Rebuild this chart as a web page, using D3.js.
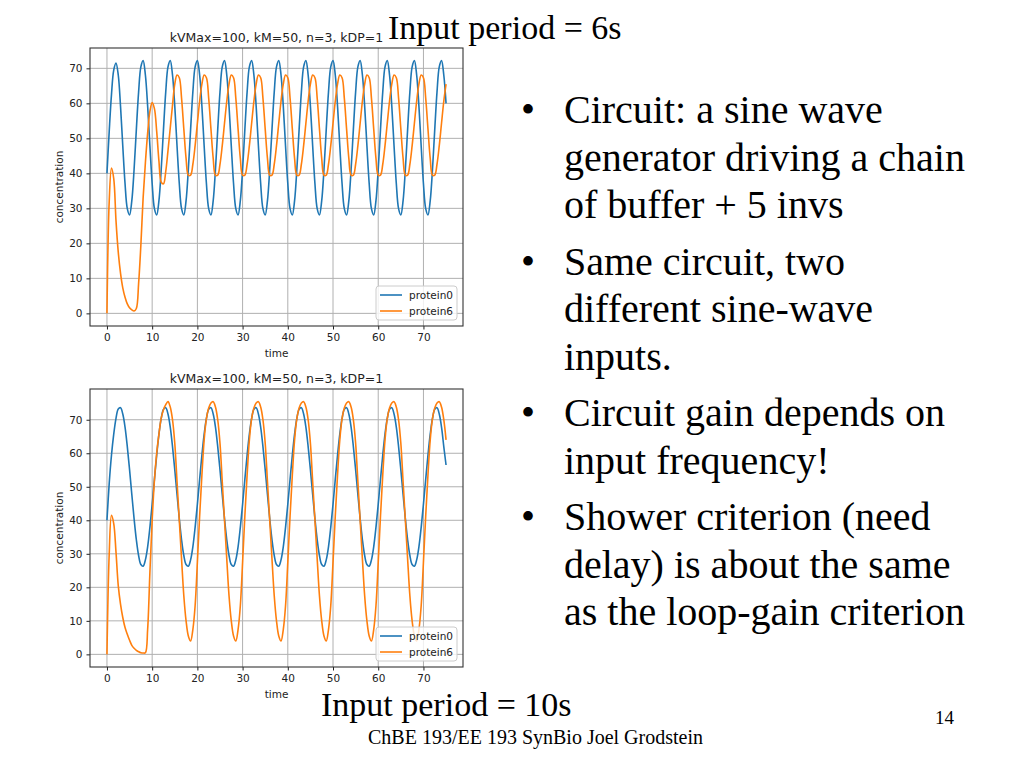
<!DOCTYPE html>
<html><head><meta charset="utf-8">
<script src="https://cdn.jsdelivr.net/npm/d3@7"></script>
<style>body{margin:0;background:#fff;} svg{display:block;}</style>
</head><body><svg id="c" width="1024" height="768"></svg>
<script>
// ---------- data ----------
const timeStep = 0.5;
const tMax = 75;
const xTickValues = [0, 10, 20, 30, 40, 50, 60, 70];
const yTickValues = [0, 10, 20, 30, 40, 50, 60, 70];
const seriesNames = ["protein0", "protein6"];
const chartTitle = "kVMax=100, kM=50, n=3, kDP=1";

// top chart (input period = 6s), sampled every 0.5 time units, t = 0..75
const topP0 = [
  40, 52, 62.5, 69.5,
  71.5, 68.1, 59.2, 47.8, 37.1, 29.9, 28.1, 32.2, 41.1, 52.5, 63.2, 70.4,
  72.2, 68.1, 59.2, 47.8, 37.1, 29.9, 28.1, 32.2, 41.1, 52.5, 63.2, 70.4,
  72.2, 68.1, 59.2, 47.8, 37.1, 29.9, 28.1, 32.2, 41.1, 52.5, 63.2, 70.4,
  72.2, 68.1, 59.2, 47.8, 37.1, 29.9, 28.1, 32.2, 41.1, 52.5, 63.2, 70.4,
  72.2, 68.1, 59.2, 47.8, 37.1, 29.9, 28.1, 32.2, 41.1, 52.5, 63.2, 70.4,
  72.2, 68.1, 59.2, 47.8, 37.1, 29.9, 28.1, 32.2, 41.1, 52.5, 63.2, 70.4,
  72.2, 68.1, 59.2, 47.8, 37.1, 29.9, 28.1, 32.2, 41.1, 52.5, 63.2, 70.4,
  72.2, 68.1, 59.2, 47.8, 37.1, 29.9, 28.1, 32.2, 41.1, 52.5, 63.2, 70.4,
  72.2, 68.1, 59.2, 47.8, 37.1, 29.9, 28.1, 32.2, 41.1, 52.5, 63.2, 70.4,
  72.2, 68.1, 59.2, 47.8, 37.1, 29.9, 28.1, 32.2, 41.1, 52.5, 63.2, 70.4,
  72.2, 68.1, 59.2, 47.8, 37.1, 29.9, 28.1, 32.2, 41.1, 52.5, 63.2, 70.4,
  72.2, 68.1, 59.2, 47.8, 37.1, 29.9, 28.1, 32.2, 41.1, 52.5, 63.2, 70.4,
  72.2, 68.1, 60.0
];
const topP6 = [
  0, 32, 41.5, 38.5, 26.5, 17.5, 11.5, 7.3, 4.6, 2.7, 1.6, 1.0, 0.7, 1.4,
  8.5, 19.5, 33, 43, 51.5, 57.7, 60.2, 58.5, 52, 43.5, 37.5, 37.0, 40.5,
  46.5, 53, 59.5, 65.5,
  68.1, 67.3, 61.5, 52.7, 44.3, 39.5, 39.5, 42.6, 47.9, 54.3, 60.6, 65.5,
  68.1, 67.3, 61.5, 52.7, 44.3, 39.5, 39.5, 42.6, 47.9, 54.3, 60.6, 65.5,
  68.1, 67.3, 61.5, 52.7, 44.3, 39.5, 39.5, 42.6, 47.9, 54.3, 60.6, 65.5,
  68.1, 67.3, 61.5, 52.7, 44.3, 39.5, 39.5, 42.6, 47.9, 54.3, 60.6, 65.5,
  68.1, 67.3, 61.5, 52.7, 44.3, 39.5, 39.5, 42.6, 47.9, 54.3, 60.6, 65.5,
  68.1, 67.3, 61.5, 52.7, 44.3, 39.5, 39.5, 42.6, 47.9, 54.3, 60.6, 65.5,
  68.1, 67.3, 61.5, 52.7, 44.3, 39.5, 39.5, 42.6, 47.9, 54.3, 60.6, 65.5,
  68.1, 67.3, 61.5, 52.7, 44.3, 39.5, 39.5, 42.6, 47.9, 54.3, 60.6, 65.5,
  68.1, 67.3, 61.5, 52.7, 44.3, 39.5, 39.5, 42.6, 47.9, 54.3, 60.6, 65.5,
  68.1, 67.3, 61.5, 52.7, 44.3, 39.5, 39.5, 42.6, 47.9, 54.3, 60.6, 65.5
];

// bottom chart (input period = 10s), sampled every 0.5 time units, t = 0..75
const botP0 = [
  40, 51, 59.4, 65.7, 70.4, 73.2,
  73.6, 71.7, 67.8, 62.0, 55.1, 47.7, 40.5, 34.2, 29.5, 26.8, 26.3, 28.2, 32.1, 37.9, 44.8, 52.2, 59.4, 65.7, 70.4, 73.1,
  73.6, 71.7, 67.8, 62.0, 55.1, 47.7, 40.5, 34.2, 29.5, 26.8, 26.3, 28.2, 32.1, 37.9, 44.8, 52.2, 59.4, 65.7, 70.4, 73.1,
  73.6, 71.7, 67.8, 62.0, 55.1, 47.7, 40.5, 34.2, 29.5, 26.8, 26.3, 28.2, 32.1, 37.9, 44.8, 52.2, 59.4, 65.7, 70.4, 73.1,
  73.6, 71.7, 67.8, 62.0, 55.1, 47.7, 40.5, 34.2, 29.5, 26.8, 26.3, 28.2, 32.1, 37.9, 44.8, 52.2, 59.4, 65.7, 70.4, 73.1,
  73.6, 71.7, 67.8, 62.0, 55.1, 47.7, 40.5, 34.2, 29.5, 26.8, 26.3, 28.2, 32.1, 37.9, 44.8, 52.2, 59.4, 65.7, 70.4, 73.1,
  73.6, 71.7, 67.8, 62.0, 55.1, 47.7, 40.5, 34.2, 29.5, 26.8, 26.3, 28.2, 32.1, 37.9, 44.8, 52.2, 59.4, 65.7, 70.4, 73.1,
  73.6, 71.7, 67.8, 62.0, 55.1, 47.7, 40.5, 34.2, 29.5, 26.8, 26.3, 28.2, 32.1, 37.9, 44.8, 52.2, 59.4, 65.7, 70.4, 73.1,
  73.6, 71.7, 67.8, 62.0, 56.5
];
const botP6 = [
  0, 30, 41.5, 39, 30.5, 20.5, 15, 11, 8, 6, 4.2, 2.7, 1.8, 1.2, 0.8, 0.5, 0.4, 0.5,
  7.5, 24.5, 40, 52, 60, 65.8, 70.5, 73, 74.5,
  75.4, 73.8, 70.0, 63.0, 51.5, 40.0, 28.5, 17.5, 10.0, 5.5, 4.0, 7.4, 14.5, 27.5, 41.3, 53.5, 64.0, 70.3, 73.5, 75.0,
  75.4, 73.8, 70.0, 63.0, 51.5, 40.0, 28.5, 17.5, 10.0, 5.5, 4.0, 7.4, 14.5, 27.5, 41.3, 53.5, 64.0, 70.3, 73.5, 75.0,
  75.4, 73.8, 70.0, 63.0, 51.5, 40.0, 28.5, 17.5, 10.0, 5.5, 4.0, 7.4, 14.5, 27.5, 41.3, 53.5, 64.0, 70.3, 73.5, 75.0,
  75.4, 73.8, 70.0, 63.0, 51.5, 40.0, 28.5, 17.5, 10.0, 5.5, 4.0, 7.4, 14.5, 27.5, 41.3, 53.5, 64.0, 70.3, 73.5, 75.0,
  75.4, 73.8, 70.0, 63.0, 51.5, 40.0, 28.5, 17.5, 10.0, 5.5, 4.0, 7.4, 14.5, 27.5, 41.3, 53.5, 64.0, 70.3, 73.5, 75.0,
  75.4, 73.8, 70.0, 63.0, 51.5, 40.0, 28.5, 17.5, 10.0, 5.5, 4.0, 7.4, 14.5, 27.5, 41.3, 53.5, 64.0, 70.3, 73.5, 75.0,
  75.4, 73.8, 70.0, 64.0
];

const bulletLines = [
  ["Circuit: a sine wave", "generator driving a chain", "of buffer + 5 invs"],
  ["Same circuit, two", "different sine-wave", "inputs."],
  ["Circuit gain depends on", "input frequency!"],
  ["Shower criterion (need", "delay) is about the same", "as the loop-gain criterion"]
];
const topCaption = "Input period = 6s";
const bottomCaption = "Input period = 10s";
const footerText = "ChBE 193/EE 193 SynBio Joel Grodstein";
const pageNumber = "14";

// ---------- drawing ----------
const times = d3.range(0, tMax + 1e-9, timeStep);
const colors = ["#1f77b4", "#ff7f0e"];
const svg = d3.select("#c");
const chartFont = "DejaVu Sans, sans-serif";
const slideFont = "Liberation Serif, Times New Roman, serif";

function drawChart(box, s0, s1) {
  const g = svg.append("g");
  const pad = 0.05;
  const xSpan = tMax - 0;
  const x = d3.scaleLinear().domain([-pad * xSpan, tMax + pad * xSpan]).range([box.left, box.right]);
  const yMin = Math.min(d3.min(s0), d3.min(s1)), yMax = Math.max(d3.max(s0), d3.max(s1));
  const ySpan = yMax - yMin;
  const y = d3.scaleLinear().domain([yMin - pad * ySpan, yMax + pad * ySpan]).range([box.bottom, box.top]);

  // grid
  g.append("g").selectAll("line").data(xTickValues).join("line")
    .attr("x1", d => x(d)).attr("x2", d => x(d)).attr("y1", box.top).attr("y2", box.bottom)
    .attr("stroke", "#b0b0b0").attr("stroke-width", 1);
  g.append("g").selectAll("line").data(yTickValues).join("line")
    .attr("y1", d => y(d)).attr("y2", d => y(d)).attr("x1", box.left).attr("x2", box.right)
    .attr("stroke", "#b0b0b0").attr("stroke-width", 1);

  // axes
  const xAxis = d3.axisBottom(x).tickValues(xTickValues).tickSize(3.5).tickPadding(4);
  const yAxis = d3.axisLeft(y).tickValues(yTickValues).tickSize(3.5).tickPadding(4);
  const gx = g.append("g").attr("transform", `translate(0,${box.bottom})`).call(xAxis);
  const gy = g.append("g").attr("transform", `translate(${box.left},0)`).call(yAxis);
  [gx, gy].forEach(a => {
    a.select(".domain").remove();
    a.selectAll("text").attr("font-family", chartFont).attr("font-size", 10.5).attr("fill", "#222");
    a.selectAll("line").attr("stroke", "#222");
  });

  // lines
  const line = d3.line().x((d, i) => x(times[i])).y(d => y(d)).curve(d3.curveCatmullRom.alpha(0.5));
  [s0, s1].forEach((s, i) => {
    g.append("path").datum(s).attr("d", line).attr("fill", "none")
      .attr("stroke", colors[i]).attr("stroke-width", 1.6);
  });

  // frame
  g.append("rect").attr("x", box.left).attr("y", box.top)
    .attr("width", box.right - box.left).attr("height", box.bottom - box.top)
    .attr("fill", "none").attr("stroke", "#333").attr("stroke-width", 1.1);

  // title & labels
  g.append("text").attr("x", (box.left + box.right) / 2).attr("y", box.top - 6)
    .attr("text-anchor", "middle").attr("font-family", chartFont).attr("font-size", 12.5)
    .attr("fill", "#222").text(chartTitle);
  g.append("text").attr("x", (box.left + box.right) / 2).attr("y", box.bottom + 31)
    .attr("text-anchor", "middle").attr("font-family", chartFont).attr("font-size", 10.5)
    .attr("fill", "#222").text("time");
  g.append("text").attr("transform", `translate(${box.left - 27},${(box.top + box.bottom) / 2}) rotate(-90)`)
    .attr("text-anchor", "middle").attr("font-family", chartFont).attr("font-size", 10.5)
    .attr("fill", "#222").text("concentration");

  // legend
  const lw = 81, lh = 34;
  const lx = box.right - 6 - lw, ly = box.bottom - 6 - lh;
  const lg = g.append("g");
  lg.append("rect").attr("x", lx).attr("y", ly).attr("width", lw).attr("height", lh).attr("rx", 3)
    .attr("fill", "#fff").attr("fill-opacity", 0.8).attr("stroke", "#ccc");
  seriesNames.forEach((n, i) => {
    const yy = ly + 9 + i * 16;
    lg.append("line").attr("x1", lx + 4).attr("x2", lx + 26).attr("y1", yy).attr("y2", yy)
      .attr("stroke", colors[i]).attr("stroke-width", 1.6);
    lg.append("text").attr("x", lx + 33).attr("y", yy + 3.8).attr("font-family", chartFont)
      .attr("font-size", 10.5).attr("fill", "#222").text(n);
  });
}

drawChart({left: 90, right: 463, top: 48, bottom: 326}, topP0, topP6);
drawChart({left: 90, right: 463, top: 389, bottom: 667}, botP0, botP6);

// slide text
svg.append("text").attr("x", 388).attr("y", 39).attr("font-family", slideFont)
  .attr("font-size", 34).attr("fill", "#000").text(topCaption);
svg.append("text").attr("x", 321).attr("y", 716).attr("font-family", slideFont)
  .attr("font-size", 34).attr("fill", "#000").text(bottomCaption);
svg.append("text").attr("x", 368).attr("y", 744).attr("font-family", slideFont)
  .attr("font-size", 20).attr("fill", "#000").text(footerText);
svg.append("text").attr("x", 935).attr("y", 724).attr("font-family", slideFont)
  .attr("font-size", 19).attr("fill", "#000").text(pageNumber);

const lineH = 47.5, bulletGap = 9;
let baseY = 123;
bulletLines.forEach(group => {
  svg.append("text").attr("x", 521).attr("y", baseY).attr("font-family", slideFont)
    .attr("font-size", 40).attr("fill", "#000").text("\u2022");
  group.forEach((ln, j) => {
    svg.append("text").attr("x", 564).attr("y", baseY + j * lineH).attr("font-family", slideFont)
      .attr("font-size", 40).attr("fill", "#000").text(ln);
  });
  baseY += group.length * lineH + bulletGap;
});
</script>
</body></html>
